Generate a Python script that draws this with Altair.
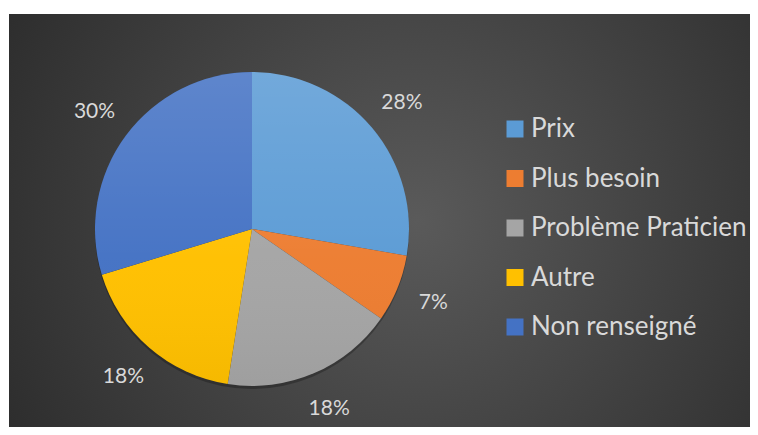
import math
import altair as alt
import pandas as pd

categories = ["Prix", "Plus besoin", "Problème Praticien", "Autre", "Non renseigné"]
values = [28, 7, 18, 18, 30]
labels = ["28%", "7%", "18%", "18%", "30%"]
colors = ["#5B9BD5", "#ED7D31", "#A5A5A5", "#FFC000", "#4472C4"]

df = pd.DataFrame({"cat": categories, "value": values, "label": labels, "idx": list(range(len(values)))})
one = pd.DataFrame({"a": [0]})

W, H = 741, 413
CX, CY, R = 243, 215, 157
FONT = "Lato"

bg = alt.Chart(one).mark_rect(
    color=alt.RadialGradient(
        gradient="radial", x1=0.55, y1=0.5, x2=0.55, y2=0.5, r1=0, r2=0.75,
        stops=[alt.GradientStop(offset=0, color="#5a5a5a"),
               alt.GradientStop(offset=1, color="#242424")],
    )
).encode(x=alt.value(0), x2=alt.value(W), y=alt.value(0), y2=alt.value(H))

shadow = alt.Chart(one).mark_arc(radius=R, color="#000000", opacity=0.25).encode(
    theta=alt.value(0), theta2=alt.value(2 * math.pi), x=alt.value(CX), y=alt.value(CY + 3)
)

base = alt.Chart(df).encode(
    theta=alt.Theta("value:Q", stack=True),
    order=alt.Order("idx:Q"),
    x=alt.value(CX), y=alt.value(CY),
)

pie = base.mark_arc(radius=R).encode(
    color=alt.Color(
        "cat:N", sort=categories,
        scale=alt.Scale(domain=categories, range=colors),
        legend=alt.Legend(
            title=None, orient="none", legendX=493, legendY=102,
            symbolType="square", symbolSize=289, symbolStrokeWidth=0,
            labelFont=FONT, labelFontSize=26, labelColor="#d9d9d9",
            labelOffset=3, rowPadding=23.5, padding=0, labelLimit=400,
        ),
    )
)

shade = alt.Chart(one).mark_arc(
    radius=R,
    color=alt.LinearGradient(
        gradient="linear", x1=0, y1=0, x2=0, y2=1,
        stops=[alt.GradientStop(offset=0, color="rgba(255,255,255,0.14)"),
               alt.GradientStop(offset=0.6, color="rgba(255,255,255,0.02)"),
               alt.GradientStop(offset=1, color="rgba(0,0,0,0.04)")],
    ),
).encode(theta=alt.value(0), theta2=alt.value(2 * math.pi), x=alt.value(CX), y=alt.value(CY))

text = base.mark_text(radius=196, font=FONT, fontSize=21, color="#d9d9d9").encode(text="label:N")

chart = alt.layer(bg, shadow, pie, shade, text).properties(
    width=W, height=H,
    padding={"left": 1, "top": 6, "right": 0, "bottom": 0},
    autosize=alt.AutoSizeParams(type="none"),
    background="white",
).configure_view(stroke=None)

chart.save("out.html", embed_options={"renderer": "svg", "actions": False})
